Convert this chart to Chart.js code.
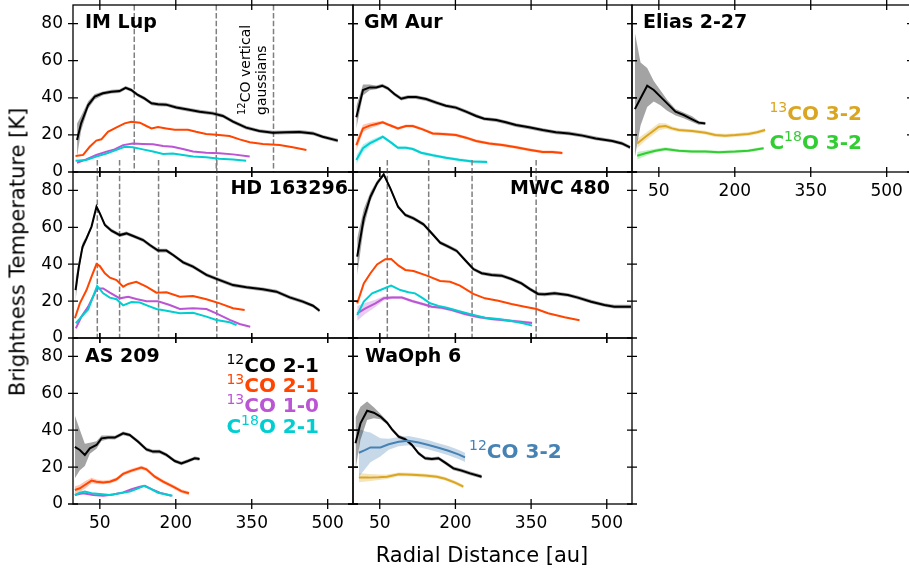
<!DOCTYPE html>
<html>
<head>
<meta charset="utf-8">
<title>Brightness temperature profiles</title>
<script src="https://cdn.jsdelivr.net/npm/chart.js@4.4.1/dist/chart.umd.min.js"></script>
<style>
  html, body { margin: 0; padding: 0; background: #fff; }
  body { position: relative; width: 909px; height: 568px; overflow: hidden; font-family: "DejaVu Sans", sans-serif; }
  canvas { position: absolute; }
  .lbl { position: absolute; line-height: 1; white-space: nowrap; color: #000; }
  .lbl .sup { font-size: 14px; font-weight: normal; vertical-align: 8px; line-height: 0; }
</style>
</head>
<body>
<script>
const xTicks = [50, 200, 350, 500];
const yTicks = [0, 20, 40, 60, 80];

// IM Lup
const imLup_12co21_r = [5, 13, 27, 40, 56, 73, 89, 101, 112, 125, 138, 152, 165, 181, 201, 221, 247, 273, 293, 313, 339, 365, 392, 418, 444, 471, 490, 520];
const imLup_12co21_t = [17.2, 26.2, 36.1, 40.6, 42.4, 43.3, 43.6, 45.4, 44.2, 41.5, 39.7, 37, 36.5, 36.3, 34.8, 33.8, 32.5, 31.6, 30.2, 27.1, 23.9, 22.1, 21.2, 21.4, 21.6, 20.8, 19, 16.9];
const imLup_12co21_e = [9, 4, 2, 1.5, 1, 1, 1, 1, 1, 1, 1, 1, 1, 1, 1, 1, 1, 1, 1, 1, 1, 1, 1, 1, 1, 1, 1, 1];
const imLup_13co21_r = [2, 17, 30, 43, 53, 66, 83, 99, 112, 129, 142, 152, 165, 181, 198, 224, 240, 260, 280, 306, 326, 346, 372, 405, 431, 458];
const imLup_13co21_t = [8.6, 9.2, 13.6, 16.9, 17.6, 21.7, 24, 26.2, 27.1, 26.6, 24.8, 23.5, 24.2, 23.5, 22.8, 22.8, 21.7, 20.5, 20.1, 19.4, 17.6, 16, 15.1, 14.5, 13.3, 11.9];
const imLup_13co10_r = [5, 23, 43, 63, 79, 96, 115, 135, 155, 175, 194, 214, 234, 260, 286, 313, 346];
const imLup_13co10_t = [5, 6.8, 9.2, 11, 12.2, 14.5, 15.4, 15.1, 14.9, 14, 13.6, 12.4, 11, 10.4, 10.1, 9.5, 8.3];
const imLup_c18o21_r = [2, 23, 43, 63, 79, 99, 115, 135, 155, 175, 194, 214, 234, 260, 286, 313, 339];
const imLup_c18o21_t = [6.1, 6.5, 8.3, 10, 11.5, 13.6, 13.3, 12.2, 11, 9.7, 10, 9.2, 8.3, 7.9, 7.2, 6.8, 6.1];
const imLupDashes = [118, 280, 393];

// GM Aur
const gmAur_12co21_r = [3.6, 16.8, 30, 43, 55, 66, 79, 92.5, 106, 122, 142, 162, 181, 201, 221, 241, 257, 281, 300, 320, 346, 373, 399, 425, 452, 478, 511, 530, 546];
const gmAur_12co21_t = [29.5, 44.2, 45.6, 45.6, 46.5, 45.1, 42, 39.5, 40.4, 40.4, 39.3, 37.4, 35.7, 34.7, 32.5, 30.2, 28.7, 28, 26.8, 25.3, 24.1, 22.6, 21.4, 20.8, 19.6, 18.1, 16.7, 15.4, 13.3];
const gmAur_12co21_e = [6, 3, 1.5, 1, 1, 1, 1, 1, 1, 1, 1, 1, 1, 1, 1, 1, 1, 1, 1, 1, 1, 1, 1, 1, 1, 1, 1, 1, 1];
const gmAur_13co21_r = [3.6, 16.8, 30, 43, 56, 69, 86, 102, 115.5, 135, 155, 175, 201, 221, 241, 267, 293, 320, 346, 373, 392, 412];
const gmAur_13co21_t = [14.5, 23.5, 25, 25.9, 26.8, 25.3, 23.5, 24.8, 24.8, 23, 20.8, 20.5, 19.9, 18.5, 16.7, 15.4, 14.5, 13.3, 12, 10.8, 10.8, 10.2];
const gmAur_13co21_e = [3, 2, 1.5, 1.2, 0.8, 0.8, 0.8, 0.8, 0.8, 0.8, 0.8, 0.8, 0.8, 0.8, 0.8, 0.8, 0.8, 0.8, 0.8, 0.8, 0.8, 0.8];
const gmAur_c18o21_r = [3.6, 16.8, 30, 43, 56, 72.7, 86, 102, 115.5, 132, 155, 181, 207, 234, 263];
const gmAur_c18o21_t = [6.5, 12.8, 15.4, 17.2, 19, 15.8, 13.1, 13.1, 12.4, 10.4, 9, 7.7, 6.6, 5.7, 5.4];
const gmAur_c18o21_e = [2.5, 2, 1.5, 1.2, 0.8, 0.8, 0.8, 0.8, 0.8, 0.8, 0.8, 0.8, 0.8, 0.8, 0.8];

// Elias 2-27
const elias_12co21_r = [2.7, 13.9, 27, 40, 53, 66.4, 82.9, 99, 115.7, 128.8, 141.9];
const elias_12co21_t = [33.9, 39.7, 46.5, 44.2, 40.6, 37, 32.5, 30.7, 28.4, 26.6, 26.2];
const elias_12co21_lo = [8, 25, 35, 38, 36, 33, 30.5, 29, 27, 25.5, 25.5];
const elias_12co21_hi = [75, 59, 56, 49, 44, 39, 34, 32, 30, 27.5, 27];
const elias_13co32_r = [7.3, 23.7, 36.9, 50, 63, 76, 89.4, 115.7, 142, 161.7, 181, 201, 227, 244, 260];
const elias_13co32_t = [15.4, 19, 21.7, 24.4, 24.8, 23.5, 22.6, 22.1, 21.2, 19.9, 19.6, 19.9, 20.5, 21.4, 22.6];
const elias_13co32_e = [2.5, 2, 2, 2, 1.5, 1.2, 1, 1, 1, 1, 1, 1, 1, 1, 1];
const elias_c18o32_r = [7.3, 23.7, 43.4, 63, 89.4, 115.7, 142, 168, 201, 227, 257];
const elias_c18o32_t = [8.8, 10.1, 11.5, 12.4, 11.5, 11, 11, 10.6, 11, 11.5, 12.8];
const elias_c18o32_e = [2, 1.5, 1, 1, 0.8, 0.8, 0.8, 0.8, 0.8, 0.8, 0.8];

// HD 163296
const hd_12co21_r = [2, 8.6, 15.8, 23.7, 33.6, 43.4, 50, 59.9, 73, 89.5, 102.6, 115.8, 135.5, 148.7, 165, 181.6, 194.7, 214.5, 234, 260.5, 286.8, 313, 339.5, 372, 398.7, 425, 451, 471, 484];
const hd_12co21_t = [26, 38.7, 49.5, 54, 60.4, 71.2, 67.6, 61.3, 58.2, 55.8, 56.7, 55.3, 53.1, 50.4, 47.4, 47.4, 45, 41, 38.7, 34.2, 31.4, 28.7, 27.5, 26.4, 25.1, 22, 19.7, 17.5, 14.8];
const hd_12co21_e = [6, 3, 2, 1.5, 1, 1, 1, 1, 1, 1, 1, 1, 1, 1, 1, 1, 1, 1, 1, 1, 1, 1, 1, 1, 1, 1, 1, 1, 1];
const hd_13co21_r = [0.7, 10.5, 23.7, 33.6, 43.4, 50, 59.9, 70, 83, 96, 106, 122, 142, 161.8, 181.6, 208, 234, 260.5, 286.8, 313, 336];
const hd_13co21_t = [10.7, 18.8, 26, 33.3, 40.1, 39, 35.1, 32.7, 31.4, 27.8, 29.3, 30.5, 27.8, 24.6, 24.8, 22.4, 22.8, 21, 18.8, 16.1, 15.2];
const hd_13co10_r = [2.6, 13.8, 27, 44.7, 56.6, 69.7, 89.5, 106, 122, 142, 165, 188, 208, 234, 260.5, 280, 306.6, 326, 347];
const hd_13co10_t = [5.2, 11.6, 17, 26.9, 26.9, 24.6, 21.5, 22.4, 21.1, 19.9, 19.9, 17.9, 15.7, 16.1, 15.7, 13.4, 9.8, 7.6, 6.1];
const hd_c18o21_r = [2.6, 13.8, 27, 44.7, 56.6, 69.7, 83, 96, 112.5, 129, 145.4, 161.8, 181.6, 208, 234, 260.5, 280, 306.6, 320];
const hd_c18o21_t = [8, 11.6, 15.5, 28.2, 24.2, 21.9, 21, 17.7, 19.5, 19.2, 17.4, 15.7, 14.8, 13.4, 13.7, 11.6, 9.8, 8.5, 7];
const hdDashes = [45, 89, 166, 281];

// MWC 480
const mwc_12co21_r = [5.3, 18.4, 31.6, 44.7, 57.9, 71, 86.2, 100.7, 117, 136.8, 153, 169.7, 186, 202.6, 219, 235.5, 252, 271.7, 291.4, 311, 331, 347, 363.8, 377, 396.7, 423, 442.8, 469, 495.4, 515, 548];
const mwc_12co21_t = [44.1, 64.9, 76.6, 83.9, 88.7, 81.1, 71.2, 66.7, 64.9, 61.6, 56.8, 51.7, 49.5, 47.2, 42.3, 37.4, 35.1, 34.2, 33.8, 32, 29.6, 26.6, 23.9, 23.7, 24.2, 23.3, 21.9, 19.7, 17.9, 17, 17];
const mwc_12co21_e = [10, 5, 2.5, 1.5, 1, 1, 1, 1, 1, 1, 1, 1, 1, 1, 1, 1, 1, 1, 1, 1, 1, 1, 1, 1, 1, 1, 1, 1, 1, 1, 1];
const mwc_13co21_r = [5.3, 18.4, 31.6, 44.7, 61, 72.6, 87.5, 100.7, 117, 143.4, 169.7, 189.5, 209, 235.5, 258.5, 285, 311, 337.5, 360.5, 383.6, 416.4, 446];
const mwc_13co21_t = [18.8, 29.6, 35.1, 39.9, 42.7, 42.8, 39.2, 36.9, 36.3, 33.8, 30.9, 30.5, 28.4, 23.9, 21.5, 20.2, 18.4, 17, 15.7, 13.4, 11.2, 9.6];
const mwc_13co10_r = [5.3, 21.7, 41.4, 57.9, 74.3, 94, 113.8, 136.8, 153, 173, 192.8, 219, 245.4, 271.7, 298, 324, 352];
const mwc_13co10_t = [13.4, 16.1, 18.8, 21.5, 22, 21.9, 20.1, 18.3, 17, 16.4, 15.2, 13, 11.4, 10.3, 9.6, 8.9, 8.1];
const mwc_13co10_e = [4, 3, 2, 1.2, 0.8, 0.8, 0.8, 0.8, 0.8, 0.8, 0.8, 0.8, 0.8, 0.8, 0.8, 0.8, 0.8];
const mwc_c18o21_r = [5.3, 18.4, 34.9, 51.3, 72.6, 90.8, 107, 120, 133.5, 150, 166.4, 183, 206, 232, 258.5, 285, 311, 334, 352];
const mwc_c18o21_t = [12.5, 19.7, 24.2, 26, 28.4, 26, 24.8, 24.2, 21.9, 18.8, 17.4, 16.4, 14.6, 12.8, 11, 10.3, 9.2, 8, 6.7];
const mwcDashes = [65, 147, 233, 360];

// AS 209
const as209_12co21_r = [0.7, 10.5, 20.4, 30.3, 43.4, 53.3, 66.4, 79.6, 96, 109, 125.7, 142, 155, 168, 181.6, 198, 211, 224, 237.5, 247];
const as209_12co21_t = [31, 29.3, 26.6, 30.2, 32, 35.6, 36.1, 36, 38.3, 37.4, 33.8, 29.6, 28.4, 28.4, 26.6, 23.3, 22, 23.3, 24.8, 24.4];
const as209_12co21_e = [17, 11, 6, 3, 2, 1.5, 1, 1, 1, 1, 1, 1, 1, 1, 1, 1, 1, 1, 1, 1];
const as209_13co21_r = [0.7, 10.5, 20.4, 33.6, 43.4, 56.6, 69.7, 82.9, 96, 112.5, 132, 142, 158.5, 175, 194.7, 211, 226];
const as209_13co21_t = [7.6, 8.5, 10.3, 12.7, 12.1, 11.7, 12.1, 13.4, 16.3, 18.1, 19.7, 18.8, 14.8, 12.1, 9.4, 7, 5.8];
const as209_13co21_e = [2, 2, 2, 1.5, 1.2, 1, 1, 1, 1, 1, 1, 1, 1, 1, 1, 1, 1];
const as209_13co10_r = [0.7, 17, 36.8, 56.6, 76.3, 96, 112.5, 129, 139, 152, 168.4, 191.4];
const as209_13co10_t = [4.9, 5.8, 4.9, 4.5, 5.2, 6.3, 8, 9.4, 9.9, 8.1, 6.1, 4.5];
const as209_c18o21_r = [0.7, 10.5, 20.4, 33.6, 50, 69.7, 89.5, 109, 125.7, 137, 148.7, 165, 181.6, 193.4];
const as209_c18o21_t = [4.9, 6.1, 6.7, 5.8, 5.4, 4.9, 5.8, 6.7, 8.5, 9.8, 8.5, 6.1, 5.2, 4.5];

// WaOph 6
const waoph_12co21_r = [2, 11.8, 25, 38.2, 51.3, 64.5, 74.3, 87.5, 100.7, 113.8, 127, 140, 153.3, 166.4, 179.6, 196, 212.5, 229, 252];
const waoph_12co21_t = [32.9, 43.7, 50.6, 49.5, 47.4, 44.1, 40.5, 36.5, 35.1, 32, 27.5, 24.8, 24.4, 24.8, 22.4, 19.3, 18.1, 16.6, 14.8];
const waoph_12co21_e = [14, 9, 5, 3, 1.5, 1, 1, 1, 1, 1, 1, 1, 1, 1, 1, 1, 1, 1, 1];
const waoph_12co32_r = [8.6, 21.7, 31.6, 51.3, 67.8, 87.5, 107.2, 127, 146.7, 166.4, 186, 206, 219];
const waoph_12co32_t = [27.8, 29.3, 30.7, 30.7, 32.4, 33.8, 34.3, 33.3, 32, 30.5, 28.9, 26.9, 25.3];
const waoph_12co32_e = [13, 10, 8, 5, 3, 2.5, 2.5, 2.5, 2.5, 2.5, 2.5, 2.5, 2.5];
const waoph_13co32_r = [8.6, 28.3, 48, 64.5, 87.5, 113.8, 140, 163, 179.6, 199.3, 215.8];
const waoph_13co32_t = [14.3, 14.3, 14.5, 14.8, 16.1, 15.9, 15.4, 14.8, 13.7, 11.6, 9.4];
const waoph_13co32_e = [2.5, 2, 1.5, 1.2, 1, 1, 1, 1, 1, 1, 1];

// colours
const black = '#000000', orange = '#ff4500', purple = '#ba55d3', cyan = '#00ced1';
const gold = '#daa520', green = '#32cd32', steel = '#4682b4';

// panel grid (pixels)
const colLeft = [73, 353, 632], colWidth = [280, 279, 280];
const rowTop = [5, 172, 338], rowHeight = [167, 166, 166];

Chart.defaults.font.family = '"DejaVu Sans", sans-serif';
Chart.defaults.color = '#000';

function bandColor(hex) {
    if (hex === black) return 'rgba(0,0,0,0.36)';
    const n = parseInt(hex.slice(1), 16);
    return `rgba(${n >> 16},${(n >> 8) & 255},${n & 255},0.3)`;
}

function points(r, t) {
    return r.map((v, i) => ({ x: v, y: t[i] }));
}

const panelDeco = {
    id: 'panelDeco',
    beforeDatasetsDraw(chart, args, opts) {
        const { ctx, chartArea: a, scales: { x } } = chart;
        if (!opts.dashes) return;
        ctx.save();
        ctx.strokeStyle = '#7f7f7f';
        ctx.lineWidth = 1.5;
        ctx.setLineDash([5.5, 2.4]);
        opts.dashes.forEach(v => {
            const px = x.getPixelForValue(v);
            ctx.beginPath();
            ctx.moveTo(px, a.top - opts.dashTop);
            ctx.lineTo(px, a.bottom);
            ctx.stroke();
        });
        ctx.restore();
    },
    afterDatasetsDraw(chart) {
        const { ctx, chartArea: a, scales: { x, y } } = chart;
        ctx.save();
        ctx.strokeStyle = '#000';
        ctx.lineWidth = 1.3;
        ctx.strokeRect(a.left, a.top, a.right - a.left, a.bottom - a.top);
        ctx.beginPath();
        xTicks.forEach(v => {
            const px = x.getPixelForValue(v);
            ctx.moveTo(px, a.bottom - 5); ctx.lineTo(px, a.bottom + 5);
            ctx.moveTo(px, a.top - 5); ctx.lineTo(px, a.top + 5);
        });
        yTicks.forEach(v => {
            const py = y.getPixelForValue(v);
            ctx.moveTo(a.left - 5, py); ctx.lineTo(a.left + 5, py);
            ctx.moveTo(a.right - 5, py); ctx.lineTo(a.right + 5, py);
        });
        ctx.stroke();
        ctx.restore();
    }
};

function makePanel(p) {
    const mL = p.col === 0 ? colLeft[0] : 12;
    const mT = 16, mR = 12;
    const mB = p.xLabels ? 44 : 14;
    const w = colWidth[p.col], h = rowHeight[p.row];
    const canvas = document.createElement('canvas');
    canvas.width = mL + w + mR;
    canvas.height = mT + h + mB;
    canvas.style.left = (colLeft[p.col] - mL) + 'px';
    canvas.style.top = (rowTop[p.row] - mT) + 'px';
    document.body.appendChild(canvas);

    const datasets = [];
    p.series.forEach((s, i) => {
        datasets.push({
            data: points(s.r, s.t),
            borderColor: s.color,
            borderWidth: 2,
            pointRadius: 0,
            fill: false,
            order: p.series.length - i
        });
    });
    p.series.forEach(s => {
        if (!s.e && !s.lo) return;
        const lo = s.lo || s.t.map((t, i) => t - s.e[i]);
        const hi = s.hi || s.t.map((t, i) => t + s.e[i]);
        const hiIndex = datasets.length;
        datasets.push({ data: points(s.r, hi), borderWidth: 0, borderColor: 'rgba(0,0,0,0)', pointRadius: 0, fill: false, order: 100 });
        datasets.push({ data: points(s.r, lo), borderWidth: 0, borderColor: 'rgba(0,0,0,0)', pointRadius: 0,
            fill: hiIndex, backgroundColor: bandColor(s.color), order: 100 });
    });

    new Chart(canvas, {
        type: 'line',
        data: { datasets },
        options: {
            responsive: false,
            animation: false,
            devicePixelRatio: 1,
            events: [],
            layout: { padding: { top: mT, right: mR, left: 0, bottom: 0 } },
            plugins: {
                legend: { display: false },
                tooltip: { enabled: false },
                panelDeco: { dashes: p.dashes || null, dashTop: p.dashTop || 0 }
            },
            scales: {
                x: {
                    type: 'linear', min: -3, max: 550,
                    grid: { display: false, drawTicks: false },
                    border: { display: false },
                    afterBuildTicks: s => { s.ticks = xTicks.map(v => ({ value: v })); },
                    afterFit: s => { s.height = mB; s.paddingLeft = 0; s.paddingRight = 0; },
                    ticks: { display: !!p.xLabels, padding: 9, maxRotation: 0, autoSkip: false, font: { size: 17 } }
                },
                y: {
                    type: 'linear', min: 0, max: 90,
                    grid: { display: false, drawTicks: false },
                    border: { display: false },
                    afterBuildTicks: s => { s.ticks = yTicks.map(v => ({ value: v })); },
                    afterFit: s => { s.width = mL; s.paddingTop = 0; s.paddingBottom = 0; },
                    ticks: { display: p.col === 0, padding: 10, font: { size: 17 } }
                }
            }
        },
        plugins: [panelDeco]
    });
}

const panels = [
    { col: 0, row: 0, dashes: imLupDashes, dashTop: 0, series: [
        { r: imLup_12co21_r, t: imLup_12co21_t, e: imLup_12co21_e, color: black },
        { r: imLup_13co21_r, t: imLup_13co21_t, color: orange },
        { r: imLup_13co10_r, t: imLup_13co10_t, color: purple },
        { r: imLup_c18o21_r, t: imLup_c18o21_t, color: cyan }] },
    { col: 1, row: 0, series: [
        { r: gmAur_12co21_r, t: gmAur_12co21_t, e: gmAur_12co21_e, color: black },
        { r: gmAur_13co21_r, t: gmAur_13co21_t, e: gmAur_13co21_e, color: orange },
        { r: gmAur_c18o21_r, t: gmAur_c18o21_t, e: gmAur_c18o21_e, color: cyan }] },
    { col: 2, row: 0, xLabels: true, series: [
        { r: elias_12co21_r, t: elias_12co21_t, lo: elias_12co21_lo, hi: elias_12co21_hi, color: black },
        { r: elias_13co32_r, t: elias_13co32_t, e: elias_13co32_e, color: gold },
        { r: elias_c18o32_r, t: elias_c18o32_t, e: elias_c18o32_e, color: green }] },
    { col: 0, row: 1, dashes: hdDashes, dashTop: 12, series: [
        { r: hd_12co21_r, t: hd_12co21_t, e: hd_12co21_e, color: black },
        { r: hd_13co21_r, t: hd_13co21_t, color: orange },
        { r: hd_13co10_r, t: hd_13co10_t, color: purple },
        { r: hd_c18o21_r, t: hd_c18o21_t, color: cyan }] },
    { col: 1, row: 1, dashes: mwcDashes, dashTop: 12, series: [
        { r: mwc_12co21_r, t: mwc_12co21_t, e: mwc_12co21_e, color: black },
        { r: mwc_13co21_r, t: mwc_13co21_t, color: orange },
        { r: mwc_13co10_r, t: mwc_13co10_t, e: mwc_13co10_e, color: purple },
        { r: mwc_c18o21_r, t: mwc_c18o21_t, color: cyan }] },
    { col: 0, row: 2, xLabels: true, series: [
        { r: as209_12co21_r, t: as209_12co21_t, e: as209_12co21_e, color: black },
        { r: as209_13co21_r, t: as209_13co21_t, e: as209_13co21_e, color: orange },
        { r: as209_13co10_r, t: as209_13co10_t, color: purple },
        { r: as209_c18o21_r, t: as209_c18o21_t, color: cyan }] },
    { col: 1, row: 2, xLabels: true, series: [
        { r: waoph_12co21_r, t: waoph_12co21_t, e: waoph_12co21_e, color: black },
        { r: waoph_12co32_r, t: waoph_12co32_t, e: waoph_12co32_e, color: steel },
        { r: waoph_13co32_r, t: waoph_13co32_t, e: waoph_13co32_e, color: gold }] }
];

panels.forEach(makePanel);

// text: position by baseline (line-height 1 => baseline at 0.846em)
function addText(html, x, base, size, o = {}) {
    const d = document.createElement('div');
    d.className = 'lbl';
    d.innerHTML = html;
    d.style.fontSize = size + 'px';
    d.style.fontWeight = o.bold ? 'bold' : 'normal';
    if (o.color) d.style.color = o.color;
    d.style.left = x + 'px';
    d.style.top = (base - 0.846 * size) + 'px';
    if (o.right) d.style.transform = 'translateX(-100%)';
    document.body.appendChild(d);
    return d;
}

function addRotated(html, x, y, size, o = {}) {
    const d = document.createElement('div');
    d.className = 'lbl';
    d.innerHTML = html;
    d.style.fontSize = size + 'px';
    d.style.left = x + 'px';
    d.style.top = y + 'px';
    if (o.center) {
        d.style.transform = 'translate(-50%,-50%) rotate(-90deg)';
    } else {
        d.style.transformOrigin = '0 0';
        d.style.transform = 'rotate(-90deg)';
    }
    document.body.appendChild(d);
}

const sup = n => `<span class="sup">${n}</span>`;

addText('IM Lup', 85, 28.5, 19, { bold: true });
addText('GM Aur', 364, 28.5, 19, { bold: true });
addText('Elias 2-27', 643, 28, 19, { bold: true });
addText('HD 163296', 348, 194.5, 19, { bold: true, right: true });
addText('MWC 480', 610, 194.5, 19, { bold: true, right: true });
addText('AS 209', 85, 362, 19, { bold: true });
addText('WaOph 6', 365, 362, 19, { bold: true });

addText(sup(12) + 'CO 2-1', 319, 372, 20, { bold: true, right: true });
addText(sup(13) + 'CO 2-1', 319, 392, 20, { bold: true, right: true, color: orange });
addText(sup(13) + 'CO 1-0', 319, 412, 20, { bold: true, right: true, color: purple });
addText('C' + sup(18) + 'O 2-1', 319, 433, 20, { bold: true, right: true, color: cyan });

addText(sup(13) + 'CO 3-2', 862, 119.5, 20, { bold: true, right: true, color: gold });
addText('C' + sup(18) + 'O 3-2', 862, 148.5, 20, { bold: true, right: true, color: green });
addText(sup(12) + 'CO 3-2', 469, 458, 20, { bold: true, color: steel });

addRotated('<span style="font-size:10px;vertical-align:5px;line-height:0">12</span>CO vertical', 238, 115, 14);
addRotated('gaussians', 253.5, 115, 14);

addRotated('Brightness Temperature [K]', 17.5, 252, 21, { center: true });
const xt = addText('Radial Distance [au]', 482, 563, 21);
xt.style.transform = 'translateX(-50%)';
</script>
</body>
</html>
